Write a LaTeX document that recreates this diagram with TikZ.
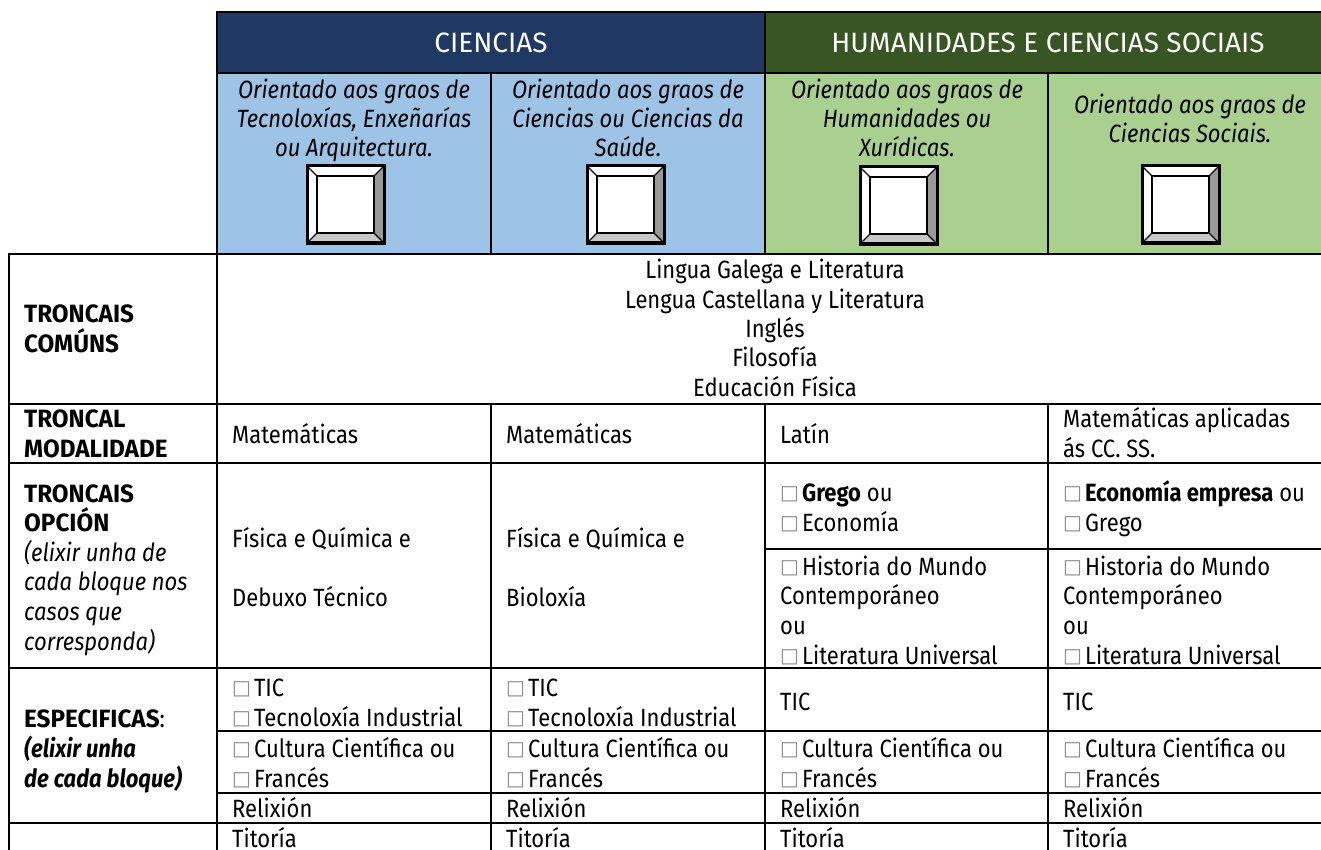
\documentclass[tikz,border=0pt]{standalone}
\usepackage{fontspec}
\setmainfont{Fira Sans}[FakeStretch=0.88]
\newfontfamily\headfont{Fira Sans}
\newfontfamily\lblfont{Fira Sans}[FakeStretch=0.97]
\newfontfamily\symfont{DejaVu Sans}
\definecolor{navy}{HTML}{1F3864}
\definecolor{dgreen}{HTML}{375623}
\definecolor{lblue}{HTML}{9DC3E6}
\definecolor{lgreen}{HTML}{A9D08E}
\definecolor{bevdark}{HTML}{999999}
\definecolor{bevlight}{HTML}{C8C8C8}
\definecolor{chkgray}{HTML}{8C8C8C}
\newcommand\chk{\raisebox{1.5pt}{\symfont\fontsize{20}{20}\selectfont\color{chkgray}□}\kern3pt}
\tikzset{
  grid/.style={line width=2pt, line cap=rect},
  txt/.style={inner sep=0pt, font=\fontsize{25}{29.6}\selectfont, align=left, anchor=base west},
  ctxt/.style={inner sep=0pt, font=\fontsize{25}{29.3}\selectfont, align=center, anchor=base},
  orient/.style={inner sep=0pt, font=\fontsize{25}{29}\selectfont\itshape, align=center, anchor=base},
  head/.style={inner sep=0pt, font=\headfont\fontsize{28}{29}\selectfont, text=white, anchor=base},
  lbl/.style={inner sep=0pt, font=\fontsize{25}{29.6}\selectfont\bfseries, align=left, anchor=base west},
  bevel/.pic={
    \fill[white] (0,0)--(77,0)--(67,10)--(10,10)--cycle;
    \fill[white] (0,0)--(10,10)--(10,67)--(0,77)--cycle;
    \fill[bevdark] (77,0)--(77,77)--(67,67)--(67,10)--cycle;
    \fill[bevlight] (0,77)--(77,77)--(67,67)--(10,67)--cycle;
    \fill[white] (10,10) rectangle (67,67);
    \draw[line width=1.3pt] (0,0)--(10,10) (77,0)--(67,10) (77,77)--(67,67) (0,77)--(10,67);
    \draw[line width=2pt] (10,10) rectangle (67,67);
    \draw[line width=3pt] (0,0) rectangle (77,77);
  }
}
\begin{document}
\begin{tikzpicture}[x=1pt,y=-1pt]
\useasboundingbox (0,0) rectangle (1321,850);
\clip (0,0) rectangle (1321,850);
% fills
\fill[navy] (217,12) rectangle (765,73);
\fill[dgreen] (765,12) rectangle (1330,73);
\fill[lblue] (217,73) rectangle (765,254);
\fill[lgreen] (765,73) rectangle (1330,254);
% grid lines
\draw[grid] (217,12)--(1330,12) (217,73)--(1330,73) (9,254)--(1330,254)
  (9,404)--(1330,404) (9,463)--(1330,463) (765,549)--(1330,549)
  (9,668)--(1330,668) (217,731)--(1330,731) (217,793)--(1330,793)
  (9,823)--(1330,823);
\draw[grid] (217,12)--(217,860) (9,254)--(9,860)
  (765,12)--(765,254) (765,404)--(765,860)
  (491,73)--(491,254) (491,404)--(491,860)
  (1048,73)--(1048,254) (1048,404)--(1048,860);
% buttons
\pic at (307,166) {bevel};
\pic at (587,166) {bevel};
\pic at (860,167) {bevel};
\pic at (1142,166) {bevel};
% header
\node[head] (hc) at (491,53) {CIENCIAS};
\node[head] (hh) at (1048,53) {HUMANIDADES E CIENCIAS SOCIAIS};
% multi-line nodes: anchor at the baseline of the LAST line
\node[orient] (o1) at (354,157) {Orientado aos graos de\\Tecnoloxías, Enxeñarías\\ou Arquitectura.};
\node[orient] (o2) at (628,157) {Orientado aos graos de\\Ciencias ou Ciencias da\\Saúde.};
\node[orient] (o3) at (907,157) {Orientado aos graos de\\Humanidades ou\\Xurídicas.};
\node[orient] (o4) at (1190,143) {Orientado aos graos de\\Ciencias Sociais.};
% common
\node[ctxt] (com) at (775,396) {Lingua Galega e Literatura\\Lengua Castellana y Literatura\\Inglés\\Filosofía\\Educación Física};
% left labels
\node[lbl] (l1) at (24,352) {\lblfont TRONCAIS\\\lblfont COMÚNS};
\node[lbl] (l2) at (24,457) {\lblfont TRONCAL\\\lblfont MODALIDADE};
\node[lbl] (l3) at (24,650) {\lblfont TRONCAIS\\\lblfont OPCIÓN\\\mdseries\itshape (elixir unha de\\\mdseries\itshape cada bloque nos\\\mdseries\itshape casos que\\\mdseries\itshape corresponda)};
\node[lbl] (l4) at (24,787) {{\lblfont ESPECIFICAS}{\mdseries :}\\\itshape (elixir unha\\\itshape de cada bloque)};
% modalidade row
\node[txt] (m1) at (232,443) {Matemáticas};
\node[txt] (m2) at (506,443) {Matemáticas};
\node[txt] (m3) at (780,443) {Latín};
\node[txt] (m4) at (1063,457) {Matemáticas aplicadas\\ás CC. SS.};
% opcion row
\node[txt] (p1a) at (232,547) {Física e Química e};
\node[txt] (p1b) at (232,606) {Debuxo Técnico};
\node[txt] (p2a) at (506,547) {Física e Química e};
\node[txt] (p2b) at (506,606) {Bioloxía};
\node[txt] (p3a) at (780,531) {\chk\textbf{Grego} ou\\\chk Economía};
\node[txt] (p4a) at (1063,531) {\chk\textbf{Economía empresa} ou\\\chk Grego};
\node[txt] (p3b) at (780,664) {\chk Historia do Mundo\\Contemporáneo\\ou\\\chk Literatura Universal};
\node[txt] (p4b) at (1063,664) {\chk Historia do Mundo\\Contemporáneo\\ou\\\chk Literatura Universal};
% especificas
\node[txt] (e1a) at (232,726) {\chk TIC\\\chk Tecnoloxía Industrial};
\node[txt] (e2a) at (506,726) {\chk TIC\\\chk Tecnoloxía Industrial};
\node[txt] (e3a) at (780,710) {TIC};
\node[txt] (e4a) at (1063,710) {TIC};
\node[txt] (e1b) at (232,787) {\chk Cultura Científica ou\\\chk Francés};
\node[txt] (e2b) at (506,787) {\chk Cultura Científica ou\\\chk Francés};
\node[txt] (e3b) at (780,787) {\chk Cultura Científica ou\\\chk Francés};
\node[txt] (e4b) at (1063,787) {\chk Cultura Científica ou\\\chk Francés};
\node[txt] (r1) at (232,817) {Relixión};
\node[txt] (r2) at (506,817) {Relixión};
\node[txt] (r3) at (780,817) {Relixión};
\node[txt] (r4) at (1063,817) {Relixión};
\node[txt] (t1) at (232,847) {Titoría};
\node[txt] (t2) at (506,847) {Titoría};
\node[txt] (t3) at (780,847) {Titoría};
\node[txt] (t4) at (1063,847) {Titoría};
\end{tikzpicture}
\end{document}
